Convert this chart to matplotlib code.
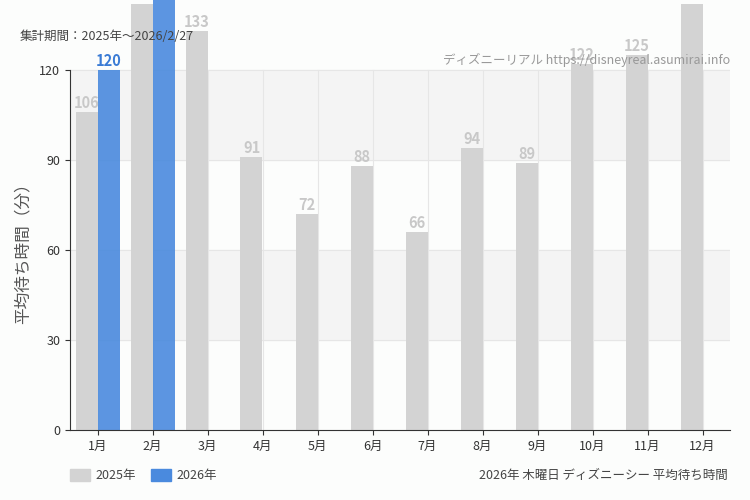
import matplotlib
matplotlib.use("Agg")
import matplotlib.pyplot as plt
from matplotlib.patches import Rectangle

plt.rcParams['font.family'] = ['Noto Sans CJK JP', 'DejaVu Sans']

months = ["1月","2月","3月","4月","5月","6月","7月","8月","9月","10月","11月","12月"]
v2025 = [106,142,133,91,72,88,66,94,89,122,125,142]
v2026 = [120,150]
yticks = [0,30,60,90,120]

fig = plt.figure(figsize=(7.5,5), dpi=100)
fig.patch.set_facecolor('#fcfdfc')
ax = fig.add_axes([70/750, 70/500, 660/750, 430/500])
ax.set_facecolor('none')
ax.set_xlim(-0.5, 11.5)
ax.set_ylim(0, 143.33)
for lo in (30, 90):
    ax.axhspan(lo, lo+30, color='#f4f4f4', zorder=0)
for y in yticks[1:]:
    ax.axhline(y, color='#e6e6e6', lw=0.8, zorder=0.5)
for i in range(12):
    ax.axvline(i, ymax=120/143.33, color='#e6e6e6', lw=0.8, zorder=0.5)
w = 0.4
x = list(range(12))
ax.bar([i - w/2 for i in x], v2025, w, color='#d3d3d3', zorder=2, clip_on=False)
ax.bar([i + w/2 for i in range(len(v2026))], v2026, w, color='#4a8ade', alpha=0.9, zorder=2, clip_on=False)
for i, v in enumerate(v2025):
    ax.text(i - w/2, v + 0.3, str(v), ha='center', va='bottom', color='#c8c8c8', fontsize=10.5, fontweight='bold', fontstretch='condensed', zorder=3, clip_on=False)
for i, v in enumerate(v2026):
    if v <= 135:
        ax.text(i + w/2, v + 0.3, str(v), ha='center', va='bottom', color='#3a7bd5', fontsize=10.5, fontweight='bold', zorder=3)
for s in ['top', 'right']:
    ax.spines[s].set_visible(False)
ax.spines['left'].set_bounds(0, 120)
ax.spines['left'].set_color('#333333')
ax.spines['bottom'].set_color('#333333')
ax.set_yticks(yticks)
ax.set_xticks(x)
ax.set_xticklabels(months)
ax.tick_params(labelsize=9, colors='#333333')
ax.set_ylabel('平均待ち時間（分）', fontsize=12, color='#555555')
ax.yaxis.set_label_coords(-38/660, 0.42)
fig.text(20/750, 1-37/500, '集計期間：2025年～2026/2/27', fontsize=9, color='#444444', va='center')
fig.text(730/750, 1-60/500, 'ディズニーリアル https://disneyreal.asumirai.info', fontsize=9, color='#999999', ha='right', va='center', zorder=5)
fig.text(728/750, 1-475/500, '2026年 木曜日 ディズニーシー 平均待ち時間', fontsize=9, color='#444444', ha='right', va='center')
fig.patches.append(Rectangle((70/750, 1-481/500), 20/750, 12/500, color='#d3d3d3', transform=fig.transFigure))
fig.text(95/750, 1-475/500, '2025年', fontsize=9, color='#444444', va='center')
fig.patches.append(Rectangle((151/750, 1-481/500), 20/750, 12/500, color='#4a8ade', transform=fig.transFigure))
fig.text(176/750, 1-475/500, '2026年', fontsize=9, color='#444444', va='center')
fig.savefig('out.png', dpi=100, facecolor=fig.get_facecolor())
